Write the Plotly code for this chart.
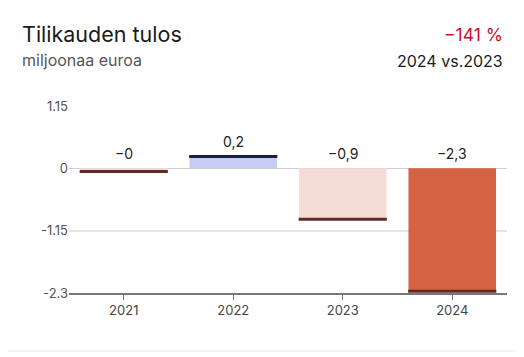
import plotly.graph_objects as go

years = ["2021", "2022", "2023", "2024"]
values = [-0.06, 0.22, -0.94, -2.27]
value_labels = ["−0", "0,2", "−0,9", "−2,3"]
fill_colors = ["#f4ddd7", "#c6cdf1", "#f6dcd7", "#d66244"]
edge_colors = ["#5e2a2a", "#1b1f45", "#5e2a2a", "#5e2a2a"]
ytick_vals = [1.15, 0, -1.15, -2.3]
ytick_text = ["1.15", "0", "-1.15", "-2.3"]

FONT = "Inter, Roboto, Arial, sans-serif"

fig = go.Figure()
fig.add_trace(go.Bar(
    x=years, y=values, marker=dict(color=fill_colors, line=dict(width=0)),
    hoverinfo="skip", showlegend=False,
))
fig.add_trace(go.Scatter(
    x=years, y=values, mode="markers",
    marker=dict(symbol="line-ew", size=63, line=dict(width=3, color=edge_colors)),
    hoverinfo="skip", showlegend=False, cliponaxis=False,
))

# value labels: category index positions on the category axis
for i, (v, t) in enumerate(zip(values, value_labels)):
    fig.add_annotation(x=i, y=max(v, 0), xref="x", yref="y", text=t,
                       showarrow=False, yanchor="bottom", yshift=4,
                       font=dict(family=FONT, size=14, color="#222"))

fig.add_annotation(xref="paper", yref="paper", x=-0.112, y=1.0, yshift=72,
                   xanchor="left", yanchor="middle", showarrow=False,
                   text="Tilikauden tulos", font=dict(family=FONT, size=21.5, color="#1a1a1a"))
fig.add_annotation(xref="paper", yref="paper", x=-0.112, y=1.0, yshift=46,
                   xanchor="left", yanchor="middle", showarrow=False,
                   text="miljoonaa euroa", font=dict(family=FONT, size=16, color="#555"))
fig.add_annotation(xref="paper", yref="paper", x=0.9954, y=1.0, yshift=72,
                   xanchor="right", yanchor="middle", showarrow=False,
                   text="−141 %", font=dict(family=FONT, size=17.5, color="#c8102e"))
fig.add_annotation(xref="paper", yref="paper", x=0.9954, y=1.0, yshift=45,
                   xanchor="right", yanchor="middle", showarrow=False,
                   text="2024 vs.2023", font=dict(family=FONT, size=16, color="#1a1a1a"))

fig.update_layout(
    width=516, height=349,
    margin=dict(l=61, r=17, t=98, b=64),
    paper_bgcolor="white", plot_bgcolor="white",
    bargap=0.2,
    xaxis=dict(type="category", range=[-0.5, 3.5], showline=True, linecolor="#777",
               linewidth=1.5, ticks="outside", ticklen=5, tickcolor="#777",
               showgrid=False, tickfont=dict(family=FONT, size=13, color="#444")),
    yaxis=dict(range=[-2.3, 1.15], tickvals=ytick_vals, ticktext=ytick_text,
               showgrid=True, gridcolor="#e3e3e3", gridwidth=2,
               zeroline=True, zerolinecolor="#cfcfcf", zerolinewidth=1,
               showline=False, ticks="",
               tickfont=dict(family=FONT, size=13, color="#555")),
    shapes=[dict(type="line", xref="paper", yref="paper", x0=-0.2, x1=1.03,
                 y0=-0.31, y1=-0.31, line=dict(color="#eeeeee", width=1.2))],
)

fig.write_html("out.html")
